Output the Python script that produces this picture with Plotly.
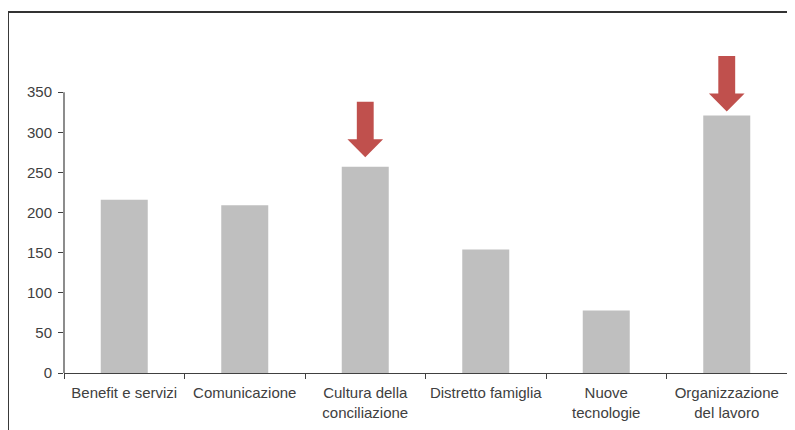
import plotly.graph_objects as go

categories = ["Benefit e servizi", "Comunicazione", "Cultura della<br>conciliazione",
              "Distretto famiglia", "Nuove<br>tecnologie", "Organizzazione<br>del lavoro"]
values = [216, 209, 257, 154, 78, 321]
y_ticks = [0, 50, 100, 150, 200, 250, 300, 350]
arrow_categories = [2, 5]      # category indexes marked with an arrow
arrow_gaps = [12, 5]           # gap between bar top and arrow tip (data units)

BAR = "#bfbfbf"
RED = "#c0504d"
AX = "#404040"

fig = go.Figure()
fig.add_trace(go.Bar(x=categories, y=values, marker=dict(color=BAR, line=dict(width=0)),
                     width=0.39, hoverinfo="x+y"))

shapes = []
# y axis line from 0 to top tick
shapes.append(dict(type="line", xref="paper", yref="y", x0=0, x1=0, y0=0, y1=y_ticks[-1],
                   line=dict(color=AX, width=1.2)))
# block arrows
sh, hh, hl, tl = 0.07, 0.148, 22.4, 69
for idx, gap in zip(arrow_categories, arrow_gaps):
    tip = values[idx] + gap
    c = idx
    path = (f"M {c-sh} {tip+tl} L {c+sh} {tip+tl} L {c+sh} {tip+hl} L {c+hh} {tip+hl} "
            f"L {c} {tip} L {c-hh} {tip+hl} L {c-sh} {tip+hl} Z")
    shapes.append(dict(type="path", xref="x", yref="y", path=path,
                       fillcolor=RED, line=dict(width=0)))
# outer frame
shapes.append(dict(type="rect", xref="paper", yref="paper", x0=-0.0775, x1=1.2, y0=-0.4, y1=1.1246,
                   line=dict(color="#333333", width=2), fillcolor="rgba(0,0,0,0)"))

fig.update_layout(
    width=787, height=422,
    margin=dict(l=56, r=8, t=44, b=57, autoexpand=False),
    paper_bgcolor="white", plot_bgcolor="white",
    showlegend=False,
    font=dict(family="Liberation Sans, Arial, sans-serif", size=15, color=AX),
    shapes=shapes,
    bargap=0.61,
    xaxis=dict(type="category", range=[-0.5, 5.5], tickson="boundaries", ticks="outside",
               ticklen=5, tickcolor=AX, showline=True, linecolor=AX, linewidth=1.2,
               showgrid=False, automargin=False, tickangle=0, ticklabelstandoff=6,
               tickfont=dict(size=15, color=AX)),
    yaxis=dict(range=[0, 400], tickvals=y_ticks, ticks="outside", ticklen=5, tickcolor=AX,
               showline=False, showgrid=False, zeroline=False, automargin=False,
               ticklabelstandoff=3, tickfont=dict(size=15, color=AX)),
)

fig.write_html("out.html")
